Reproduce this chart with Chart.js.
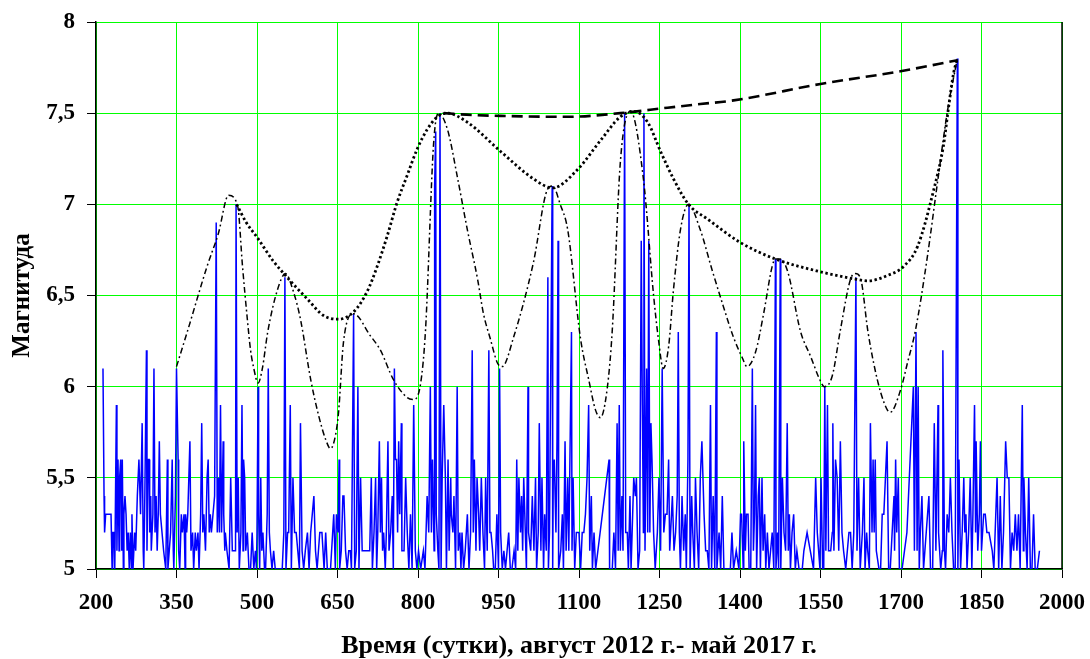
<!DOCTYPE html>
<html><head><meta charset="utf-8">
<script src="https://cdn.jsdelivr.net/npm/chart.js@4/dist/chart.umd.min.js"></script>
<style>html,body{margin:0;padding:0;background:#fff;overflow:hidden}canvas{display:block}</style>
</head><body>
<canvas id="c" width="1090" height="659"></canvas>
<script>
// Earthquake events: day number and magnitude
const eventDays = [
213,215,216,218,224,228,230,231,233,235,238,239,241,243,244,246,248,249,251,252,254,256,258,260,262,264,266,267,269,272,274,277,280,283,286,288,289,291,294,295,297,299,300,302,303,306,308,310,312,314,316,318,320,323,326,330,333,334,339,342,344,345,348,350,353,354,356,359,361,364,366,367,369,371,375,377,380,382,385,387,390,392,395,397,399,401,404,407,409,411,413,415,418,421,424,426,428,430,432,434,437,438,440,441,444,448,451,454,457,460,461,463,465,467,470,472,474,475,477,479,482,485,488,491,494,497,499,500,502,503,505,507,509,511,514,516,519,521,523,525,528,531,534,538,541,
547,550,552,554,557,559,562,564,567,570,573,576,579,581,584,587,590,594,597,600,606,609,612,617,621,625,628,631,637,643,646,648,651,653,654,657,660,662,665,668,671,674,676,680,682,685,688,690,693,696,699,702,707,710,713,715,718,721,723,725,728,730,732,734,736,739,741,744,746,749,752,754,756,758,760,762,764,766,769,770,774,777,780,783,786,789,792,795,798,801,805,810,813,817,820,823,825,827,830,831,833,834,837,839,841,843,845,848,851,853,856,858,861,862,865,867,870,873,875,878,880,882,885,888,892,895,898,901,903,905,908,910,913,
915,918,921,924,926,929,932,934,936,939,941,944,947,950,952,954,957,960,963,966,969,972,975,979,982,984,986,988,991,993,995,997,1000,1002,1005,1006,1010,1013,1016,1019,1021,1024,1026,1029,1031,1034,1036,1039,1042,1043,1045,1050,1051,1052,1054,1057,1059,1061,1062,1066,1069,1071,1074,1076,1079,1081,1086,1087,1089,1092,1095,1100,1103,1106,1109,1112,1115,1118,1120,1123,1125,1128,1131,1156,1157,1162,1165,1168,1171,1173,1175,1177,1180,1182,1185,1187,1190,1192,1195,1197,1200,1202,1205,1207,1210,1213,1216,1218,1220,1221,1223,1226,1228,1230,1232,1234,1236,1239,1242,1246,1249,1252,1255,1258,1261,1264,1267,
1269,1274,1277,1280,1283,1285,1287,1289,1292,1295,1298,1300,1303,1305,1307,1310,1312,1315,1317,1320,1323,1326,1329,1333,1336,1339,1342,1345,1347,1350,1353,1356,1357,1361,1364,1367,1370,1373,1376,1382,1385,1388,1393,1398,1401,1403,1406,1407,1410,1412,1415,1417,1420,1423,1425,1427,1429,1431,1434,1436,1438,1441,1443,1446,1448,1451,1454,1457,1460,1463,1466,1467,1470,1472,1475,1476,1479,1482,1485,1488,1490,1492,1494,1497,1500,1503,1506,1510,1516,1519,1525,1531,1537,1541,1544,1549,1551,1554,1556,1558,1560,1563,1565,1569,1572,1573,1575,1578,1581,1584,1587,1590,1593,1597,1600,1603,1606,1609,1612,1616,1618,1621,
1624,1628,1631,1633,1636,1638,1641,1643,1646,1648,1650,1652,1654,1659,1662,1665,1668,1671,1674,1677,1680,1687,1688,1690,1692,1695,1697,1702,1711,1723,1725,1728,1730,1732,1734,1736,1739,1742,1747,1752,1755,1759,1762,1765,1769,1770,1774,1777,1778,1781,1783,1786,1789,1792,1795,1798,1801,1805,1806,1808,1811,1814,1817,1819,1821,1823,1826,1829,1832,1834,1837,1839,1840,1843,1846,1848,1850,1854,1857,1860,1864,1870,1873,1879,1882,1885,1888,1891,1895,1898,1901,1904,1907,1910,1913,1916,1919,1922,1926,1928,1929,1932,1935,1938,1941,1944,1947,1950,1954,1958
];
const eventMags = [
6.1,5.4,5.2,5.3,5.3,5.3,5.0,5.2,5.2,5.0,5.9,5.1,5.6,5.1,5.5,5.6,5.1,5.6,5.0,5.3,5.4,5.3,5.1,5.2,5.0,5.2,5.0,5.3,5.0,5.2,5.1,5.4,5.6,5.3,5.8,5.1,5.0,5.4,6.2,5.1,5.6,5.6,5.2,5.4,5.1,5.3,6.1,5.2,5.4,5.1,5.3,5.7,5.3,5.2,5.1,5.0,5.6,5.0,5.2,5.6,5.1,5.0,5.4,6.1,5.6,5.1,5.0,5.3,5.2,5.3,5.0,5.3,5.2,5.3,5.7,5.1,5.2,5.0,5.2,5.1,5.2,5.0,5.3,5.8,5.2,5.3,5.1,5.5,5.6,5.2,5.3,5.2,5.3,5.4,6.9,5.2,5.5,5.2,5.9,5.2,5.7,5.3,5.1,5.2,5.1,5.0,5.5,5.1,5.1,5.1,7.0,5.2,5.5,5.0,5.2,5.9,5.1,5.6,5.5,5.1,5.2,5.0,5.0,5.2,5.0,5.1,5.0,5.2,6.0,5.3,5.0,5.5,5.1,5.2,5.0,5.0,5.3,6.1,5.2,5.1,5.0,5.1,5.0,5.0,5.0,
5.0,5.2,6.6,5.0,5.2,5.2,5.9,5.0,5.5,5.2,5.2,5.1,5.0,5.8,5.1,5.0,5.1,5.2,5.0,5.2,5.4,5.1,5.0,5.2,5.2,5.0,5.2,5.0,5.0,5.3,5.0,5.3,5.2,5.6,5.0,5.1,5.4,5.4,5.1,5.0,5.1,5.1,5.0,6.4,5.0,5.1,6.0,5.0,5.5,5.1,5.1,5.1,5.1,5.1,5.5,5.0,5.2,5.5,5.0,5.2,5.7,5.2,5.5,5.1,5.2,5.0,5.2,5.7,5.1,5.2,5.4,5.0,6.1,5.6,5.6,5.2,5.7,5.3,5.8,5.1,5.1,5.5,5.2,5.0,5.3,5.0,5.9,5.1,5.0,5.1,5.0,5.1,5.0,5.4,5.2,6.0,5.2,5.6,5.1,7.1,7.4,5.3,5.1,5.0,7.5,5.0,5.5,5.9,5.5,5.0,5.6,5.1,5.5,5.3,5.2,5.4,5.0,6.0,5.1,5.2,5.0,5.2,5.0,5.1,5.3,5.0,5.2,6.2,5.2,5.6,5.1,5.5,5.3,
5.1,5.5,5.2,5.0,5.5,5.1,6.2,5.2,5.2,5.1,5.0,5.0,5.3,5.0,6.1,5.2,5.0,5.1,5.0,5.1,5.2,5.0,5.0,5.1,5.0,5.6,5.1,5.5,5.2,5.4,5.1,5.5,5.2,5.0,6.0,5.2,5.1,5.4,5.1,5.5,5.0,5.2,5.8,5.1,5.5,5.0,5.3,5.1,6.6,5.0,5.2,7.1,5.0,5.5,5.6,5.2,5.7,6.8,5.0,5.1,5.3,5.0,5.7,5.1,5.5,5.1,6.3,5.1,5.5,5.0,5.2,5.2,5.0,5.2,5.2,5.3,5.5,5.9,5.1,5.4,5.0,5.2,5.0,5.6,5.0,5.0,5.2,5.0,5.8,5.1,5.9,5.1,5.4,5.1,7.5,5.2,5.2,5.0,5.4,5.0,5.3,5.5,5.4,5.5,5.0,5.1,6.8,5.9,5.2,7.5,5.1,6.1,5.2,6.8,5.2,5.8,5.6,5.2,5.0,5.2,5.5,5.1,6.1,5.2,5.3,5.3,5.6,
5.1,5.4,5.1,5.2,5.4,6.3,5.2,5.0,5.4,5.1,5.3,5.0,5.6,7.0,5.0,5.4,5.2,5.0,5.5,5.2,5.0,5.5,5.7,5.3,5.1,5.1,5.0,5.9,5.0,5.4,5.0,6.3,5.0,5.2,5.0,5.4,5.0,5.0,5.0,5.0,5.2,5.0,5.1,5.0,5.3,5.3,5.0,5.7,5.1,5.3,5.3,5.0,5.0,6.1,5.1,5.3,5.9,5.0,5.4,5.5,5.0,5.5,5.1,5.3,5.0,5.2,5.0,5.1,5.2,5.0,6.7,5.0,5.2,5.0,6.7,5.0,5.5,5.2,5.1,5.8,5.1,5.3,5.0,5.2,5.3,5.0,5.1,5.0,5.0,5.1,5.2,5.1,5.0,5.5,5.2,5.0,5.5,5.0,5.0,6.0,5.1,5.9,5.1,5.1,5.2,5.8,5.1,5.6,5.5,5.1,5.7,5.2,5.1,5.0,5.1,5.2,5.2,5.0,5.2,6.6,5.1,5.5,
5.0,5.2,5.5,5.0,5.2,5.1,5.0,5.8,5.2,5.6,5.2,5.6,5.1,5.0,5.0,5.3,5.3,5.5,5.7,5.0,5.0,5.4,5.1,5.6,5.2,5.5,5.0,5.0,5.2,6.0,5.1,6.3,5.1,6.0,5.0,5.2,5.4,5.0,5.2,5.4,5.0,5.0,5.8,5.1,5.9,5.2,5.0,5.1,6.2,5.1,5.0,5.3,5.2,5.5,5.2,5.0,5.0,7.8,5.0,5.6,5.0,5.2,5.5,5.2,5.3,5.0,5.2,5.5,5.0,5.3,5.9,5.2,5.7,5.1,5.3,5.7,5.1,5.3,5.3,5.2,5.2,5.1,5.0,5.5,5.0,5.4,5.0,5.2,5.7,5.5,5.5,5.0,5.2,5.1,5.3,5.1,5.3,5.0,5.9,5.1,5.5,5.2,5.0,5.5,5.0,5.0,5.3,5.0,5.0,5.1
];

// Dotted envelope curve
const envDays = [462,480,500,530,553,562,594,624,652,680,705,724,743,761,780,798,817,836,854,892,954,1015,1051,1097,1140,1177,1202,1228,1252,1276,1304,1339,1401,1466,1550,1615,1638,1675,1705,1731,1761,1779,1789,1798,1805];
const envMags = [7.00,6.90,6.82,6.69,6.61,6.58,6.48,6.39,6.37,6.41,6.52,6.66,6.83,7.01,7.16,7.30,7.41,7.48,7.50,7.45,7.29,7.14,7.09,7.19,7.35,7.48,7.51,7.45,7.29,7.14,7.00,6.92,6.79,6.70,6.63,6.59,6.58,6.61,6.66,6.77,7.08,7.32,7.54,7.72,7.80];

// Dash-dot curve
const dashDotDays = [350,370,407,428,447,464,473,482,488,494,502,510,520,538,553,568,581,600,615,628,637,646,652,661,680,711,730,754,780,792,805,814,829,838,855,874,892,911,922,935,948,957,978,1015,1041,1051,1065,1079,1103,1118,1131,1140,1153,1162,1177,1196,1220,1239,1248,1257,1267,1276,1289,1304,1326,1348,1369,1388,1404,1413,1429,1444,1460,1466,1475,1489,1513,1531,1550,1557,1572,1587,1606,1615,1625,1638,1649,1662,1675,1680,1699,1712,1727,1749,1768,1787,1805];
const dashDotMags = [6.11,6.30,6.66,6.84,7.05,6.99,6.66,6.37,6.20,6.10,6.02,6.10,6.30,6.53,6.62,6.52,6.37,6.04,5.84,5.71,5.66,5.73,5.86,6.24,6.40,6.28,6.20,6.04,5.94,5.93,6.02,6.31,7.33,7.50,7.41,7.14,6.86,6.59,6.40,6.26,6.13,6.11,6.27,6.68,7.08,7.10,7.00,6.86,6.26,6.04,5.87,5.83,6.00,6.31,7.23,7.51,7.14,6.50,6.26,6.10,6.22,6.53,6.86,7.00,6.86,6.64,6.44,6.27,6.16,6.11,6.19,6.40,6.66,6.70,6.70,6.63,6.30,6.17,6.03,6.00,6.06,6.31,6.59,6.62,6.59,6.31,6.13,5.97,5.87,5.86,5.98,6.13,6.31,6.71,7.12,7.52,7.80];

// Dashed trend curve
const dashedDays = [848,900,954,1079,1177,1265,1326,1388,1550,1699,1805];
const dashedMags = [7.50,7.49,7.485,7.48,7.50,7.53,7.55,7.57,7.66,7.73,7.79];

// Axis settings
const xTicks = [200,350,500,650,800,950,1100,1250,1400,1550,1700,1850,2000];
const yTicks = [5,5.5,6,6.5,7,7.5,8];
const xTitle = 'Время (сутки), август 2012 г.- май 2017 г.';
const yTitle = 'Магнитуда';

const pts = (xs, ys) => xs.map((x, i) => ({x: x, y: ys[i]}));
const FONT = '"Liberation Serif", "Times New Roman", serif';

const frame = {
  id: 'frame',
  afterDraw(chart) {
    const {ctx, chartArea: a} = chart;
    ctx.save();
    ctx.strokeStyle = '#000';
    ctx.lineWidth = 1.5;
    ctx.beginPath();
    ctx.moveTo(a.right, a.top);
    ctx.lineTo(a.right, a.bottom);
    ctx.stroke();
    ctx.restore();
  }
};

new Chart(document.getElementById('c'), {
  type: 'line',
  data: {
    datasets: [
      {data: pts(dashedDays, dashedMags), borderColor: '#000', borderWidth: 2.6, borderDash: [11, 6], pointRadius: 0, cubicInterpolationMode: 'monotone', fill: false, order: 0},
      {data: pts(envDays, envMags), borderColor: '#000', borderWidth: 2.8, borderDash: [2.4, 2.6], pointRadius: 0, cubicInterpolationMode: 'monotone', fill: false, order: 0},
      {data: pts(dashDotDays, dashDotMags), borderColor: '#000', borderWidth: 1.5, borderDash: [6, 3, 1.8, 3], pointRadius: 0, cubicInterpolationMode: 'monotone', fill: false, order: 0},
      {data: pts(eventDays, eventMags), borderColor: '#0000ff', borderWidth: 1.5, pointRadius: 0, tension: 0, fill: false, order: 1}
    ]
  },
  options: {
    responsive: false,
    devicePixelRatio: 1,
    animation: false,
    events: [],
    layout: {padding: {top: 22, right: 28, left: 0, bottom: 0}},
    plugins: {legend: {display: false}, tooltip: {enabled: false}},
    scales: {
      x: {
        type: 'linear', min: 200, max: 2000,
        afterBuildTicks: s => { s.ticks = xTicks.map(v => ({value: v})); },
        afterFit: s => { s.height = 90; s.paddingLeft = 0; s.paddingRight = 0; s.paddingTop = 0; s.paddingBottom = 0; },
        grid: {color: '#00ff00', lineWidth: 1, tickColor: '#000', tickLength: 9},
        border: {color: '#000', width: 1.5},
        ticks: {color: '#000', padding: 11, maxRotation: 0, autoSkip: false, font: {family: FONT, size: 23, weight: 'bold'}, callback: v => String(v)},
        title: {display: true, text: xTitle, color: '#000', padding: {top: 0, bottom: 0}, font: {family: FONT, size: 26, weight: 'bold', lineHeight: 1}}
      },
      y: {
        type: 'linear', min: 5, max: 8,
        afterBuildTicks: s => { s.ticks = yTicks.map(v => ({value: v})); },
        afterFit: s => { s.width = 96; s.paddingLeft = 0; s.paddingRight = 0; s.paddingTop = 0; s.paddingBottom = 0; },
        grid: {color: '#00ff00', lineWidth: 1, tickColor: '#000', tickLength: 9},
        border: {color: '#000', width: 1.5},
        ticks: {color: '#000', padding: 12, font: {family: FONT, size: 23, weight: 'bold'}, callback: v => String(v).replace('.', ',')},
        title: {display: true, text: yTitle, color: '#000', padding: {top: 10, bottom: 0}, font: {family: FONT, size: 25, weight: 'bold', lineHeight: 1}}
      }
    }
  },
  plugins: [frame]
});
</script>
</body></html>
